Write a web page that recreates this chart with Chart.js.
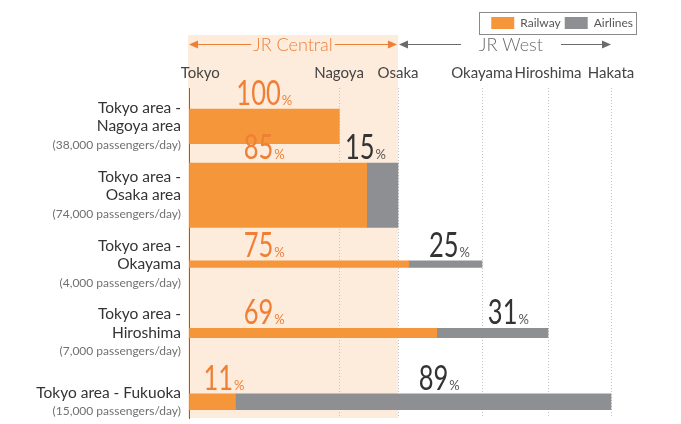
<!DOCTYPE html>
<html>
<head>
<meta charset="utf-8">
<script src="https://cdn.jsdelivr.net/npm/chart.js@4.4.1/dist/chart.umd.min.js"></script>
<style>
  html, body { margin: 0; padding: 0; background: #fff; }
  #wrap { position: relative; width: 681px; height: 424px; }
</style>
</head>
<body>
<div id="wrap"><canvas id="chart"></canvas></div>
<script>
/* ==== Data ==== */
const routes = [
    ['Tokyo area -', 'Nagoya area'],
    ['Tokyo area -', 'Osaka area'],
    ['Tokyo area -', 'Okayama'],
    ['Tokyo area -', 'Hiroshima'],
    ['Tokyo area - Fukuoka']
];
const passengers = [38000, 74000, 4000, 7000, 15000];   // passengers/day
const railShare = [100, 85, 75, 69, 11];                 // %
const airShare = [0, 15, 25, 31, 89];                    // %
// stations along the line, distance on the chart's route axis
const stations = ['Tokyo', 'Nagoya', 'Osaka', 'Okayama', 'Hiroshima', 'Hakata'];
const stationPos = [0, 150, 209, 293, 359, 422];
const routeEnd = [1, 2, 3, 4, 5];                        // index into stations

const ORANGE = '#F5963A', GREY = '#8E8F93', SHADE = '#FDEBDC';
const TXT_ORANGE = '#F07F36';
const FONT = 'Lato, "Open Sans", sans-serif';
const PAD_TOP = 13;

// two stacked datasets per route, so each route gets its own bar thickness
const datasets = [];
routes.forEach((r, i) => {
    const len = stationPos[routeEnd[i]];
    const thick = 3.5 + passengers[i] / 1000 * 0.82;
    datasets.push({ label: 'Railway', data: [{ x: len * railShare[i] / 100, y: i }],
        backgroundColor: ORANGE, barThickness: thick, stack: 'route', row: i, kind: 'rail' });
    datasets.push({ label: 'Airlines', data: [{ x: len * airShare[i] / 100, y: i }],
        backgroundColor: GREY, barThickness: thick, stack: 'route', row: i, kind: 'air' });
});

// frame around the legend items
function legendFrame(chart) {
    const hb = chart.legend.legendHitBoxes;
    if (!hb || !hb.length) return null;
    const last = hb[hb.length - 1];
    const left = Math.round(hb[0].left - 12), top = Math.round(hb[0].top - 5);
    return { left, top, width: Math.round(last.left + last.width - hb[0].left + 15), height: Math.round(last.height + 10) };
}

const decor = {
    id: 'decor',
    beforeDraw(chart) {
        const { ctx, chartArea, scales: { x } } = chart;
        const fr = legendFrame(chart);
        const top = fr ? fr.top + fr.height + 1 : chartArea.top;
        // JR Central zone
        ctx.save();
        ctx.fillStyle = SHADE;
        const x0 = x.getPixelForValue(0) - 1, x1 = x.getPixelForValue(stationPos[2]);
        ctx.fillRect(x0, top, x1 - x0, chartArea.bottom - top);
        ctx.restore();
    },
    afterDatasetsDraw(chart) {
        const { ctx, chartArea, scales: { x, y } } = chart;
        ctx.save();
        // passengers line under each route label
        ctx.font = '12px ' + FONT;
        ctx.fillStyle = '#707070';
        ctx.textAlign = 'right';
        ctx.textBaseline = 'middle';
        routes.forEach((r, i) => {
            const yy = y.getPixelForValue(i) + r.length / 2 * 18.6;
            ctx.fillText('(' + passengers[i].toLocaleString('en-US') + ' passengers/day)', chartArea.left - 8, yy);
        });

        // share labels: big condensed number + small %
        const SQ = 0.75;
        const width = (num) => {
            ctx.font = '34px ' + FONT;
            const w = ctx.measureText(num).width * SQ;
            ctx.font = '13px ' + FONT;
            return w + 1 + ctx.measureText('%').width;
        };
        const label = (num, left, base, cNum, cPct) => {
            ctx.textAlign = 'left';
            ctx.textBaseline = 'alphabetic';
            ctx.font = '34px ' + FONT;
            ctx.fillStyle = cNum;
            const w = ctx.measureText(num).width * SQ;
            ctx.save();
            ctx.translate(left, base);
            ctx.scale(SQ, 1);
            ctx.fillText(num, 0, 0);
            ctx.restore();
            ctx.font = '13px ' + FONT;
            ctx.fillStyle = cPct;
            ctx.fillText('%', left + w + 1, base);
        };
        const nagoya = x.getPixelForValue(stationPos[1]);
        chart.data.datasets.forEach((ds, di) => {
            const bar = chart.getDatasetMeta(di).data[0];
            const i = ds.row;
            const base = bar.y - bar.height / 2 - 4;
            if (ds.kind === 'rail') {
                const num = String(railShare[i]);
                const w = width(num);
                let cx;
                if (bar.x > nagoya) cx = (bar.base + nagoya) / 2;
                else cx = Math.max((bar.base + bar.x) / 2, bar.base + 14 + w / 2);
                label(num, cx - w / 2, base, TXT_ORANGE, TXT_ORANGE);
            } else if (airShare[i] > 0) {
                const num = String(airShare[i]);
                const w = width(num);
                const right = Math.min(bar.x - 12, (bar.base + bar.x) / 2 + w / 2 + 16);
                label(num, right - w, base, '#333', '#555');
            }
        });
        ctx.restore();
    },
    afterDraw(chart) {
        const { ctx, scales: { x } } = chart;
        const fr = legendFrame(chart);
        ctx.save();
        if (fr) {
            ctx.strokeStyle = '#8a8a8a';
            ctx.lineWidth = 1;
            ctx.strokeRect(fr.left + 0.5, fr.top + 0.5, fr.width, fr.height);
        }

        // company header arrows
        const yy = (fr ? fr.top + fr.height : 35) + 10;
        const arrow = (xa, xb, text, color, gap, shift) => {
            ctx.font = '300 18px ' + FONT;
            ctx.fillStyle = color;
            ctx.strokeStyle = color;
            ctx.lineWidth = 1;
            ctx.textAlign = 'center';
            ctx.textBaseline = 'middle';
            const cx = (xa + xb) / 2 + shift;
            const tw = ctx.measureText(text).width;
            ctx.fillText(text, cx, yy + 1);
            ctx.beginPath();
            ctx.moveTo(xa + 2, yy + 0.5); ctx.lineTo(cx - tw / 2 - gap, yy + 0.5);
            ctx.moveTo(cx + tw / 2 + gap, yy + 0.5); ctx.lineTo(xb - 2, yy + 0.5);
            ctx.stroke();
            ctx.beginPath();
            ctx.moveTo(xa, yy + 0.5); ctx.lineTo(xa + 9, yy - 3.5); ctx.lineTo(xa + 9, yy + 4.5); ctx.closePath();
            ctx.moveTo(xb, yy + 0.5); ctx.lineTo(xb - 9, yy - 3.5); ctx.lineTo(xb - 9, yy + 4.5); ctx.closePath();
            ctx.fill();
        };
        arrow(x.getPixelForValue(stationPos[0]), x.getPixelForValue(stationPos[2]) - 1, 'JR Central', TXT_ORANGE, 2, 0);
        arrow(x.getPixelForValue(stationPos[2]) + 1, x.getPixelForValue(stationPos[5]), 'JR West', '#6b6b6b', 18, 6);
        ctx.restore();
    }
};

new Chart(document.getElementById('chart'), {
    type: 'bar',
    data: { datasets },
    options: {
        indexAxis: 'y',
        responsive: true,
        maintainAspectRatio: false,
        animation: false,
        layout: { padding: { top: PAD_TOP, right: 44, bottom: 6, left: 0 } },
        plugins: {
            legend: {
                position: 'top',
                align: 'end',
                labels: {
                    filter: (item) => item.datasetIndex < 2,
                    boxWidth: 23, boxHeight: 12, padding: 4,
                    color: '#555', font: { family: FONT, size: 12 }
                }
            },
            tooltip: { enabled: false }
        },
        scales: {
            x: {
                type: 'linear', position: 'top', stacked: true, min: 0, max: 448,
                afterBuildTicks: (s) => { s.ticks = stationPos.map(v => ({ value: v })); },
                afterFit: (s) => { s.height = 88 - PAD_TOP - s.chart.legend.height; },
                ticks: {
                    padding: 6, color: '#444', font: { family: FONT, size: 15 },
                    callback: (v, i) => i === 0 ? '\u2003\u2003' + stations[0] : stations[i]
                },
                grid: {
                    drawTicks: false,
                    color: (c) => c.tick && c.tick.value === 0 ? 'rgba(0,0,0,0)' : '#c4c4c4'
                },
                border: { display: false, dash: [1, 2] }
            },
            y: {
                type: 'linear', reverse: true, stacked: true, offset: false,
                min: -0.558, max: 4.235,
                afterBuildTicks: (s) => { s.ticks = routes.map((r, i) => ({ value: i })); },
                afterFit: (s) => { s.width = 189; s.paddingTop = 0; s.paddingBottom = 0; },
                ticks: {
                    padding: 8, color: '#333', font: { family: FONT, size: 15.5, lineHeight: 1.2 },
                    callback: (v) => routes[v] ? [...routes[v], ''] : ''
                },
                grid: { display: false, drawTicks: false },
                border: { display: true, color: '#6b6b6b', width: 1 }
            }
        }
    },
    plugins: [decor]
});
</script>
</body>
</html>
